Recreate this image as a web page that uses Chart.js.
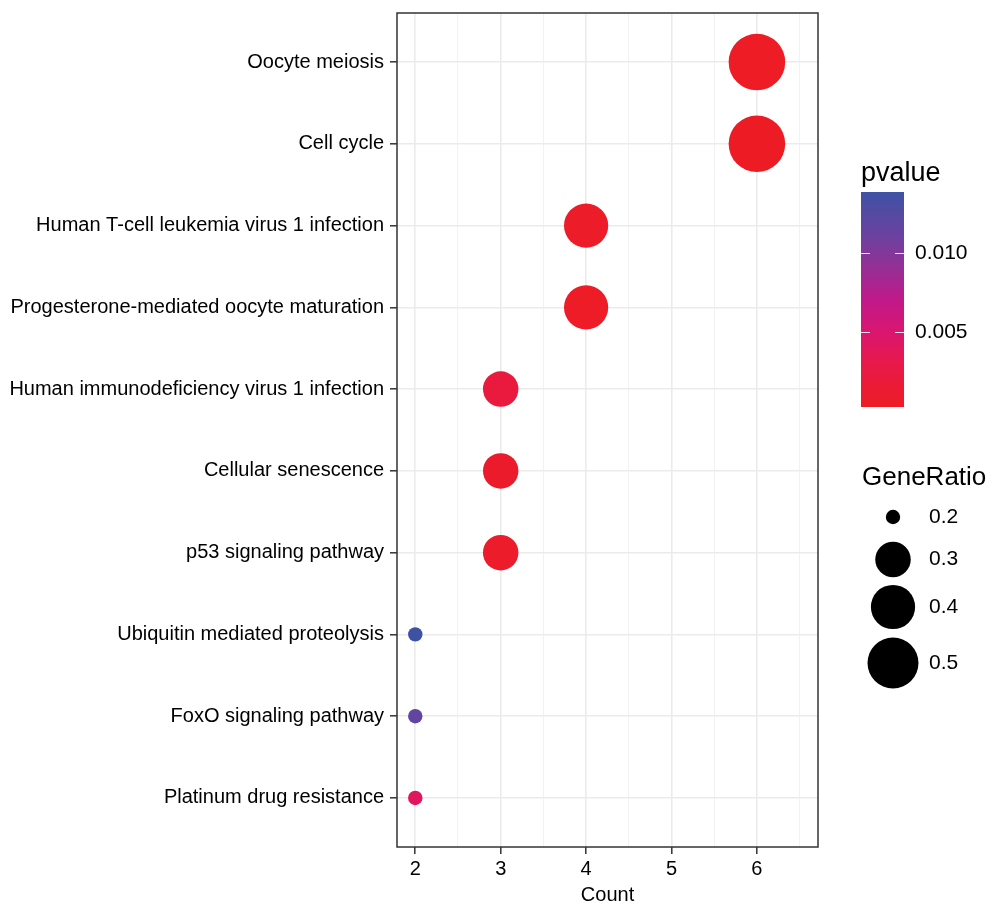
<!DOCTYPE html>
<html>
<head>
<meta charset="utf-8">
<script src="https://cdn.jsdelivr.net/npm/chart.js@4"></script>
<style>
  html, body { margin: 0; padding: 0; background: #ffffff; }
  #wrap { width: 995px; height: 905px; position: relative; }
</style>
</head>
<body>
<div id="wrap"><canvas id="c" width="995" height="905"></canvas></div>
<script>
// ---------- data ----------
const categories = [
  "Oocyte meiosis",
  "Cell cycle",
  "Human T-cell leukemia virus 1 infection",
  "Progesterone-mediated oocyte maturation",
  "Human immunodeficiency virus 1 infection",
  "Cellular senescence",
  "p53 signaling pathway",
  "Ubiquitin mediated proteolysis",
  "FoxO signaling pathway",
  "Platinum drug resistance"
];
const counts     = [6, 6, 4, 4, 3, 3, 3, 2, 2, 2];
const geneRatio  = [0.6, 0.6, 0.4, 0.4, 0.3, 0.3, 0.3, 0.2, 0.2, 0.2];
const pvalues    = [0.0003, 0.00025, 0.0006, 0.0005, 0.0021, 0.0008, 0.0007, 0.0139, 0.0117, 0.0041];
const xTicks     = [2, 3, 4, 5, 6];
const xMinorTicks = [2.5, 3.5, 4.5, 5.5, 6.5];
const pTicks     = [0.005, 0.010];
const pTickLabels = ["0.005", "0.010"];
const sizeLegendValues = [0.2, 0.3, 0.4, 0.5];
const sizeLegendLabels = ["0.2", "0.3", "0.4", "0.5"];

// colour ramp stops (position along the p range, colour)
const rampPos    = [0, 0.2, 0.35, 0.5, 0.65, 0.8, 1];
const rampColors = ["#ed1c24", "#e8194a", "#da1670", "#c0198a", "#933095", "#6a42a0", "#3e52a4"];

// ---------- scales for colour and size ----------
const pMin = Math.min(...pvalues), pMax = Math.max(...pvalues);
const gMin = Math.min(...geneRatio), gMax = Math.max(...geneRatio);
const R_MIN = 7.2, R_MAX = 28.3;
function sizeScale(g) {
  const t = Math.max(0, (g - gMin) / (gMax - gMin));
  return R_MIN + (R_MAX - R_MIN) * Math.sqrt(t);
}
function hex2rgb(h){ return [parseInt(h.slice(1,3),16),parseInt(h.slice(3,5),16),parseInt(h.slice(5,7),16)]; }
const rampRGB = rampColors.map(hex2rgb);
function colorScale(p){
  const t = Math.max(0, Math.min(1, (p - pMin) / (pMax - pMin)));
  let i = 0;
  while (i < rampPos.length - 2 && t > rampPos[i + 1]) i++;
  const u = (t - rampPos[i]) / (rampPos[i + 1] - rampPos[i]);
  const a = rampRGB[i], b = rampRGB[i + 1];
  const c = [0,1,2].map(k => Math.round(a[k] + (b[k] - a[k]) * u));
  return `rgb(${c[0]},${c[1]},${c[2]})`;
}

// ---------- layout constants ----------
const PLOT_LEFT = 397, PLOT_TOP = 13, PLOT_RIGHT = 818, PLOT_BOTTOM = 847;
const CW = 995, CH = 905;
const FONT = "'Liberation Sans', Arial, Helvetica, sans-serif";
const AXIS_TEXT = "#000000";

const panelBorder = {
  id: 'panelBorder',
  afterDraw(chart) {
    const { ctx, chartArea: a } = chart;
    ctx.save();
    ctx.strokeStyle = '#333333';
    ctx.lineWidth = 1.5;
    ctx.strokeRect(a.left, a.top, a.right - a.left, a.bottom - a.top);
    ctx.restore();
  }
};

const legends = {
  id: 'legends',
  afterDraw(chart) {
    const ctx = chart.ctx;
    ctx.save();
    ctx.fillStyle = '#000';
    ctx.font = `27px ${FONT}`;
    ctx.textAlign = 'left';
    ctx.textBaseline = 'alphabetic';
    ctx.fillText('pvalue', 861, 181);
    const bx = 861, bw = 43, btop = 192, bbot = 407;
    const grad = ctx.createLinearGradient(0, btop, 0, bbot);
    const N = 60;
    for (let i = 0; i <= N; i++) {
      const p = pMax - (pMax - pMin) * i / N;
      grad.addColorStop(i / N, colorScale(p));
    }
    ctx.fillStyle = grad;
    ctx.fillRect(bx, btop, bw, bbot - btop);
    const pToY = p => bbot - (p - pMin) / (pMax - pMin) * (bbot - btop);
    ctx.strokeStyle = 'rgba(255,255,255,0.85)';
    ctx.lineWidth = 1;
    ctx.font = `21px ${FONT}`;
    ctx.textBaseline = 'middle';
    pTicks.forEach((p, i) => {
      const y = Math.round(pToY(p)) + 0.5;
      ctx.beginPath();
      ctx.moveTo(bx, y); ctx.lineTo(bx + 9, y);
      ctx.moveTo(bx + bw - 9, y); ctx.lineTo(bx + bw, y);
      ctx.stroke();
      ctx.fillStyle = '#000';
      ctx.fillText(pTickLabels[i], 915, y);
    });
    ctx.font = `26px ${FONT}`;
    ctx.textBaseline = 'alphabetic';
    ctx.fillStyle = '#000';
    ctx.fillText('GeneRatio', 862, 485);
    const cy = [517, 559.5, 607, 663];
    ctx.font = `21px ${FONT}`;
    ctx.textBaseline = 'middle';
    sizeLegendValues.forEach((g, i) => {
      ctx.beginPath();
      ctx.arc(893, cy[i], sizeScale(g), 0, Math.PI * 2);
      ctx.fillStyle = '#000';
      ctx.fill();
      ctx.fillText(sizeLegendLabels[i], 929, cy[i]);
    });
    ctx.restore();
  }
};

const points = categories.map((c, i) => ({ x: counts[i], y: i }));

new Chart(document.getElementById('c'), {
  type: 'bubble',
  data: {
    datasets: [{
      data: points,
      radius: ctx => sizeScale(geneRatio[ctx.dataIndex]),
      hoverRadius: 0,
      backgroundColor: ctx => colorScale(pvalues[ctx.dataIndex]),
      borderWidth: 0
    }]
  },
  options: {
    responsive: false,
    animation: false,
    devicePixelRatio: 1,
    layout: { autoPadding: false, padding: { left: 0, top: PLOT_TOP, right: CW - PLOT_RIGHT, bottom: 0 } },
    plugins: { legend: { display: false }, tooltip: { enabled: false } },
    scales: {
      x: {
        type: 'linear',
        min: 1.786,
        max: 6.715,
        afterBuildTicks: s => { s.ticks = [...xTicks, ...xMinorTicks].sort((a,b)=>a-b).map(v => ({ value: v })); },
        afterFit: s => { s.height = CH - PLOT_BOTTOM; s.paddingLeft = 0; s.paddingRight = 0; },
        border: { display: false },
        grid: {
          color: ctx => (ctx.tick && xTicks.includes(ctx.tick.value)) ? '#ebebeb' : '#f0f0f0',
          lineWidth: ctx => (ctx.tick && xTicks.includes(ctx.tick.value)) ? 1.6 : 0.9,
          tickColor: ctx => (ctx.tick && xTicks.includes(ctx.tick.value)) ? '#333333' : 'rgba(0,0,0,0)',
          tickLength: 7,
          tickWidth: 1.5
        },
        ticks: {
          autoSkip: false,
          maxRotation: 0,
          padding: 3,
          color: AXIS_TEXT,
          font: { family: FONT, size: 20 },
          callback: v => xTicks.includes(v) ? String(v) : ''
        },
        title: {
          display: true,
          text: 'Count',
          color: '#000',
          font: { family: FONT, size: 20, lineHeight: 1 },
          padding: { top: 0, bottom: 0 }
        }
      },
      y: {
        type: 'linear',
        reverse: true,
        min: -0.6,
        max: categories.length - 1 + 0.6,
        afterBuildTicks: s => { s.ticks = categories.map((c, i) => ({ value: i })); },
        afterFit: s => { s.width = PLOT_LEFT; s.paddingTop = 0; s.paddingBottom = 0; },
        border: { display: false },
        grid: {
          color: '#ebebeb',
          lineWidth: 1.6,
          tickColor: '#333333',
          tickLength: 7,
          tickWidth: 1.5
        },
        ticks: {
          autoSkip: false,
          padding: 6,
          color: AXIS_TEXT,
          font: { family: FONT, size: 20 },
          callback: v => categories[v]
        }
      }
    }
  },
  plugins: [panelBorder, legends]
});
</script>
</body>
</html>
